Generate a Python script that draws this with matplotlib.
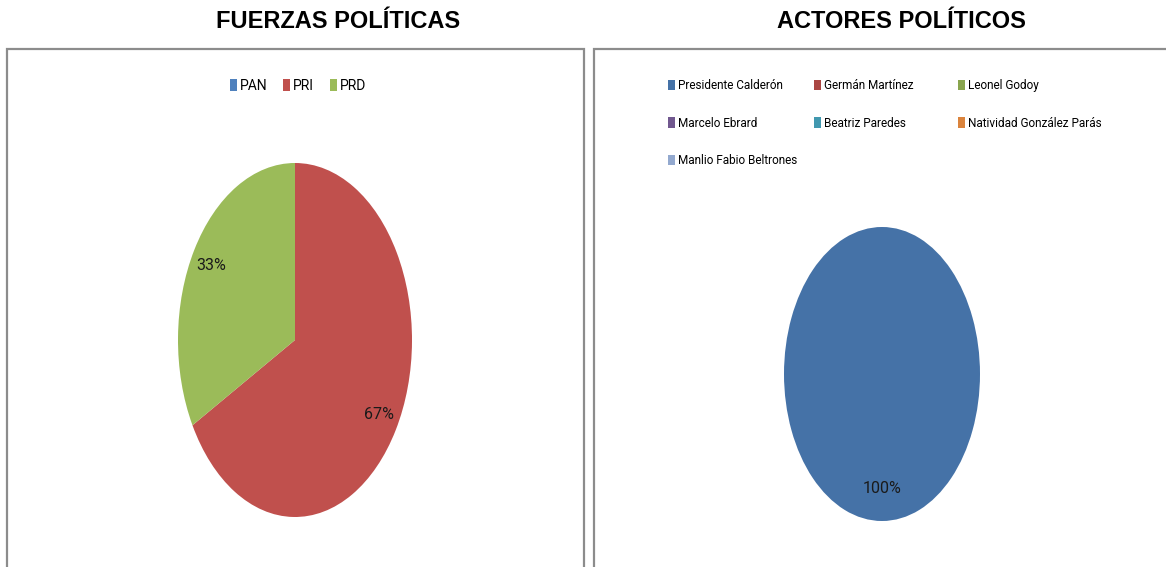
import matplotlib.pyplot as plt
from matplotlib.patches import Rectangle, Patch

# data
fuerzas = ["PAN", "PRI", "PRD"]
fuerzas_vals = [0, 67, 33]
fuerzas_colors = ["#4F81BD", "#C0504D", "#9BBB59"]

actores = ["Presidente Calderón", "Germán Martínez", "Leonel Godoy",
           "Marcelo Ebrard", "Beatriz Paredes", "Natividad González Parás",
           "Manlio Fabio Beltrones"]
actores_vals = [100, 0, 0, 0, 0, 0, 0]
actores_colors = ["#4572A7", "#AA4643", "#89A54E", "#71588F",
                  "#4198AF", "#DB843D", "#93A9CF"]

W, H = 1166, 567
narrow = ["Roboto", "DejaVu Sans"]

fig = plt.figure(figsize=(W / 100, H / 100), dpi=100)


def px(x, y, w=0, h=0):
    # pixel box (top-left origin) -> figure fraction
    return [x / W, 1 - (y + h) / H, w / W, h / H]


# titles
fig.text(338 / W, 1 - 22 / H, "FUERZAS POLÍTICAS", ha="center", va="center",
         fontsize=17, fontweight="bold", family="Liberation Sans")
fig.text(901 / W, 1 - 22 / H, "ACTORES POLÍTICOS", ha="center", va="center",
         fontsize=17, fontweight="bold", family="Liberation Sans")

# frames around each chart
for x0, x1 in [(7, 584), (594, 1200)]:
    fig.patches.append(Rectangle((x0 / W, -0.1), (x1 - x0) / W, 1 - 49 / H + 0.1,
                                 transform=fig.transFigure, fill=False,
                                 edgecolor="#8C8C8C", linewidth=1.6))


def pct(p):
    return f"{p:.0f}%" if p > 0.5 else ""


# left pie (stretched vertically like the original)
ax1 = fig.add_axes(px(178, 163, 234, 354))
ax1.pie(fuerzas_vals, colors=fuerzas_colors, startangle=90, counterclock=False,
        autopct=pct, pctdistance=0.83,
        textprops=dict(fontsize=11.5, family=narrow, color="#1a1a1a"))
ax1.set_aspect("auto")
ax1.set_xlim(-1, 1)
ax1.set_ylim(-1, 1)

h1 = [Patch(facecolor=c, edgecolor="none") for c in fuerzas_colors]
fig.legend(h1, fuerzas, loc="center", bbox_to_anchor=(298 / W, 1 - 86 / H),
           ncol=3, frameon=False, handlelength=0.5, handleheight=0.95,
           handletextpad=0.25, columnspacing=1.1,
           prop=dict(family=narrow, size=10))

# right pie
ax2 = fig.add_axes(px(784, 227, 196, 294))
ax2.pie(actores_vals, colors=actores_colors, startangle=90, counterclock=False,
        autopct=pct, pctdistance=0.78,
        textprops=dict(fontsize=11.5, family=narrow, color="#1a1a1a"))
ax2.set_aspect("auto")
ax2.set_xlim(-1, 1)
ax2.set_ylim(-1, 1)

# legend laid out in three equal columns, row-wise like Excel
col_x = [668, 814, 958]
for c in range(3):
    idx = list(range(c, len(actores), 3))
    hs = [Patch(facecolor=actores_colors[i], edgecolor="none") for i in idx]
    labs = [actores[i] for i in idx]
    fig.legend(hs, labs, loc="upper left",
               bbox_to_anchor=(col_x[c] / W, 1 - 79 / H),
               frameon=False, borderpad=0, borderaxespad=0,
               handlelength=0.6, handleheight=1.0, handletextpad=0.25,
               labelspacing=2.08, prop=dict(family=narrow, size=8.5))

fig.savefig("out.png", dpi=100)
